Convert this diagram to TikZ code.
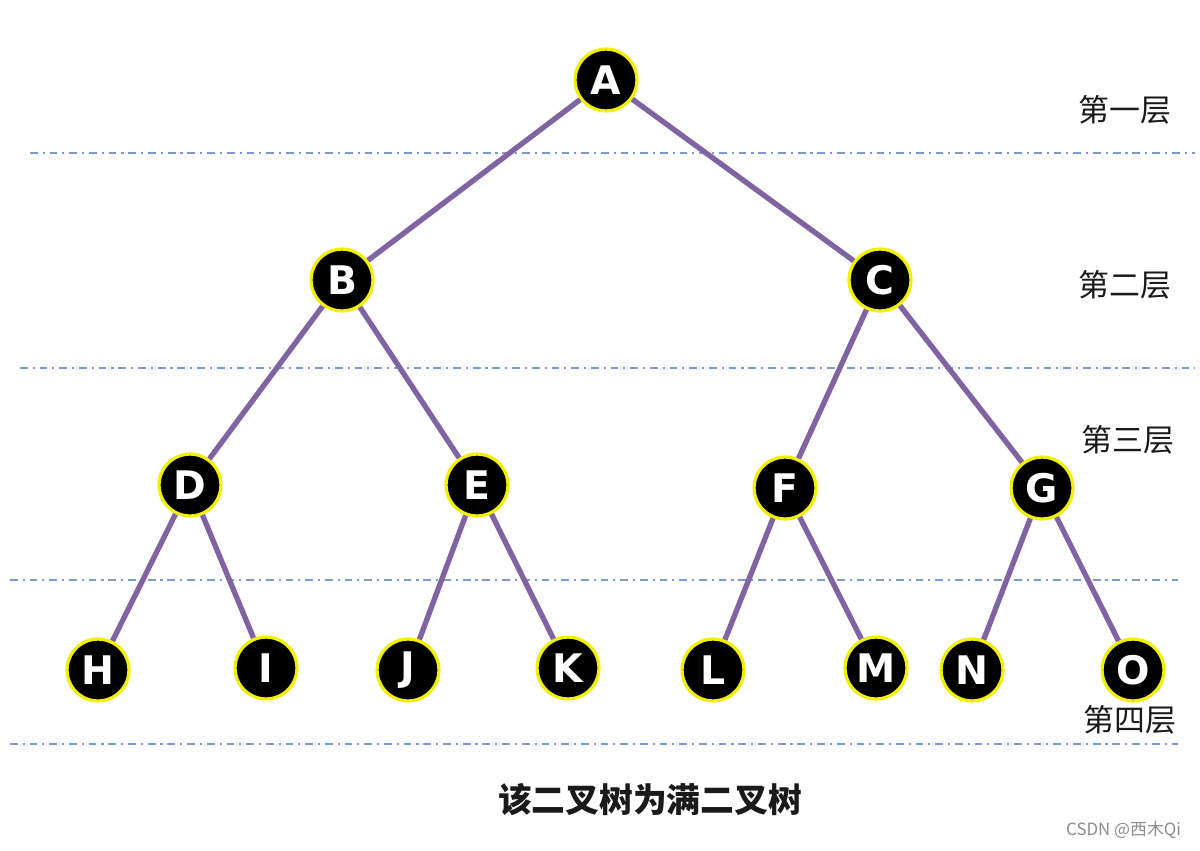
\documentclass[tikz,border=0pt]{standalone}
\usepackage{fontspec}
\setsansfont{DejaVu Sans}
\newfontfamily\cjk{Noto Sans CJK SC}
\usetikzlibrary{positioning}
\definecolor{ink}{HTML}{1A1A1A}
\definecolor{ring}{HTML}{F0F000}
\definecolor{edge}{HTML}{8064A2}
\definecolor{levelline}{HTML}{7B9BCE}
\definecolor{muted}{HTML}{8C8C8C}

\begin{document}
\begin{tikzpicture}[
    x=0.025cm, y=-0.025cm,
    treenode/.style={
        circle,
        draw=ring,
        fill=black,
        line width=2.3pt,
        minimum size=44pt,
        inner sep=0pt,
        font=\sffamily\bfseries\fontsize{28}{28}\selectfont,
        text=white
    },
    branch/.style={draw=edge, line width=3.8pt},
    levelrule/.style={draw=levelline, line width=1.3pt,
        dash pattern=on 5.5pt off 3.5pt on 1.5pt off 3.5pt},
    levelname/.style={font=\cjk\fontsize{22}{22}\selectfont, text=ink, inner sep=0pt}
]
\useasboundingbox (0,0) rectangle (1200,850);

% Level separators.
\coordinate (r1a) at (30,153);  \coordinate (r1b) at (1195,153);
\coordinate (r2a) at (20,368);  \coordinate (r2b) at (1195,368);
\coordinate (r3a) at (10,580);  \coordinate (r3b) at (1178,580);
\coordinate (r4a) at (10,744);  \coordinate (r4b) at (1178,744);
\draw[levelrule] (r1a) -- (r1b);
\draw[levelrule] (r2a) -- (r2b);
\draw[levelrule] (r3a) -- (r3b);
\draw[levelrule] (r4a) -- (r4b);

% Level names.
\node[levelname] (lv1) at (1125,110) {第一层};
\node[levelname] (lv2) at (1125,285) {第二层};
\node[levelname] (lv3) at (1128,440) {第三层};
\node[levelname] (lv4) at (1130,720) {第四层};

% Tree nodes.
\node[treenode] (A) at (606,80) {A};
\node[treenode] (B) at (342,280) {B};
\node[treenode] (C) at (880,280) {C};
\node[treenode] (D) at (190,485) {D};
\node[treenode] (E) at (477,485) {E};
\node[treenode] (F) at (785,488) {F};
\node[treenode] (G) at (1042,488) {G};
\node[treenode] (H) at (98,670) {H};
\node[treenode] (I) at (266,668) {I};
\node[treenode] (J) at (408,670) {J};
\node[treenode] (K) at (568,668) {K};
\node[treenode] (L) at (713,670) {L};
\node[treenode] (M) at (876,668) {M};
\node[treenode] (N) at (972,670) {N};
\node[treenode] (O) at (1133,670) {O};

% Branches.
\draw[branch] (A) -- (B);
\draw[branch] (A) -- (C);
\draw[branch] (B) -- (D);
\draw[branch] (B) -- (E);
\draw[branch] (C) -- (F);
\draw[branch] (C) -- (G);
\draw[branch] (D) -- (H);
\draw[branch] (D) -- (I);
\draw[branch] (E) -- (J);
\draw[branch] (E) -- (K);
\draw[branch] (F) -- (L);
\draw[branch] (F) -- (M);
\draw[branch] (G) -- (N);
\draw[branch] (G) -- (O);

% Caption and watermark.
\node[font=\cjk\bfseries\fontsize{24}{24}\selectfont, text=ink] (caption) at (650,800) {该二叉树为满二叉树};
\node[font=\cjk\fontsize{12}{12}\selectfont, text=muted, anchor=east] (mark) at (1186,830) {CSDN @西木Qi};

\end{tikzpicture}
\end{document}
